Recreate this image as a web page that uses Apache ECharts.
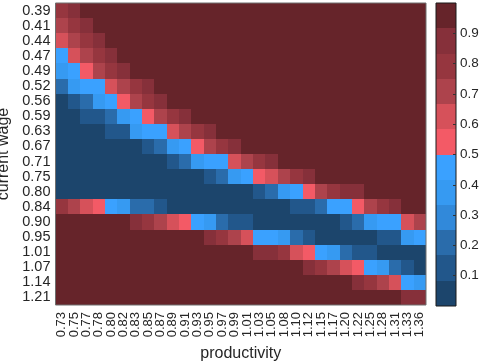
<!DOCTYPE html>
<html>
<head>
<meta charset="utf-8">
<script src="https://cdn.jsdelivr.net/npm/echarts@6/dist/echarts.min.js"></script>
<style>
  html, body { margin: 0; padding: 0; background: #ffffff; }
  #chart { width: 480px; height: 362px; }
</style>
</head>
<body>
<div id="chart"></div>
<script>
// Productivity levels (columns) and current wage levels (rows, lowest at top)
const productivity = ['0.73','0.75','0.77','0.78','0.80','0.82','0.83','0.85','0.87','0.89',
                      '0.91','0.93','0.95','0.97','0.99','1.01','1.03','1.05','1.08','1.10',
                      '1.12','1.15','1.17','1.20','1.22','1.25','1.28','1.31','1.33','1.36'];
const currentWage = ['0.39','0.41','0.44','0.47','0.49','0.52','0.56','0.59','0.63','0.67',
                     '0.71','0.75','0.80','0.84','0.90','0.95','1.01','1.07','1.14','1.21'];

// Cell values, one array per wage row, one entry per productivity column
const w039 = [0.79,0.88,0.96,0.96,0.96,0.96,0.96,0.96,0.96,0.96, 0.96,0.96,0.96,0.96,0.96,0.96,0.96,0.96,0.96,0.96, 0.96,0.96,0.96,0.96,0.96,0.96,0.96,0.96,0.96,0.96];
const w041 = [0.71,0.79,0.88,0.96,0.96,0.96,0.96,0.96,0.96,0.96, 0.96,0.96,0.96,0.96,0.96,0.96,0.96,0.96,0.96,0.96, 0.96,0.96,0.96,0.96,0.96,0.96,0.96,0.96,0.96,0.96];
const w044 = [0.63,0.71,0.79,0.88,0.96,0.96,0.96,0.96,0.96,0.96, 0.96,0.96,0.96,0.96,0.96,0.96,0.96,0.96,0.96,0.96, 0.96,0.96,0.96,0.96,0.96,0.96,0.96,0.96,0.96,0.96];
const w047 = [0.46,0.63,0.71,0.79,0.88,0.96,0.96,0.96,0.96,0.96, 0.96,0.96,0.96,0.96,0.96,0.96,0.96,0.96,0.96,0.96, 0.96,0.96,0.96,0.96,0.96,0.96,0.96,0.96,0.96,0.96];
const w049 = [0.38,0.46,0.54,0.71,0.79,0.88,0.96,0.96,0.96,0.96, 0.96,0.96,0.96,0.96,0.96,0.96,0.96,0.96,0.96,0.96, 0.96,0.96,0.96,0.96,0.96,0.96,0.96,0.96,0.96,0.96];
const w052 = [0.21,0.38,0.46,0.46,0.63,0.71,0.79,0.88,0.96,0.96, 0.96,0.96,0.96,0.96,0.96,0.96,0.96,0.96,0.96,0.96, 0.96,0.96,0.96,0.96,0.96,0.96,0.96,0.96,0.96,0.96];
const w056 = [0.04,0.13,0.21,0.38,0.46,0.54,0.71,0.79,0.88,0.96, 0.96,0.96,0.96,0.96,0.96,0.96,0.96,0.96,0.96,0.96, 0.96,0.96,0.96,0.96,0.96,0.96,0.96,0.96,0.96,0.96];
const w059 = [0.04,0.04,0.13,0.13,0.21,0.38,0.46,0.54,0.71,0.79, 0.88,0.96,0.96,0.96,0.96,0.96,0.96,0.96,0.96,0.96, 0.96,0.96,0.96,0.96,0.96,0.96,0.96,0.96,0.96,0.96];
const w063 = [0.04,0.04,0.04,0.04,0.13,0.13,0.38,0.46,0.46,0.63, 0.71,0.79,0.88,0.96,0.96,0.96,0.96,0.96,0.96,0.96, 0.96,0.96,0.96,0.96,0.96,0.96,0.96,0.96,0.96,0.96];
const w067 = [0.04,0.04,0.04,0.04,0.04,0.04,0.04,0.13,0.21,0.38, 0.46,0.54,0.71,0.79,0.88,0.96,0.96,0.96,0.96,0.96, 0.96,0.96,0.96,0.96,0.96,0.96,0.96,0.96,0.96,0.96];
const w071 = [0.04,0.04,0.04,0.04,0.04,0.04,0.04,0.04,0.04,0.13, 0.21,0.38,0.46,0.46,0.63,0.71,0.79,0.88,0.96,0.96, 0.96,0.96,0.96,0.96,0.96,0.96,0.96,0.96,0.96,0.96];
const w075 = [0.04,0.04,0.04,0.04,0.04,0.04,0.04,0.04,0.04,0.04, 0.04,0.04,0.13,0.21,0.38,0.46,0.54,0.63,0.71,0.79, 0.88,0.96,0.96,0.96,0.96,0.96,0.96,0.96,0.96,0.96];
const w080 = [0.04,0.04,0.04,0.04,0.04,0.04,0.04,0.04,0.04,0.04, 0.04,0.04,0.04,0.04,0.04,0.04,0.13,0.21,0.38,0.46, 0.54,0.71,0.79,0.88,0.88,0.96,0.96,0.96,0.96,0.96];
const w084 = [0.79,0.71,0.63,0.54,0.46,0.38,0.21,0.21,0.13,0.04, 0.04,0.04,0.04,0.04,0.04,0.04,0.04,0.04,0.04,0.13, 0.13,0.21,0.46,0.46,0.54,0.71,0.79,0.88,0.96,0.96];
const w090 = [0.96,0.96,0.96,0.96,0.96,0.96,0.88,0.79,0.71,0.63, 0.54,0.46,0.38,0.21,0.13,0.13,0.04,0.04,0.04,0.04, 0.04,0.04,0.04,0.13,0.21,0.38,0.46,0.46,0.63,0.71];
const w095 = [0.96,0.96,0.96,0.96,0.96,0.96,0.96,0.96,0.96,0.96, 0.96,0.96,0.88,0.79,0.71,0.63,0.46,0.46,0.38,0.21, 0.13,0.04,0.04,0.04,0.04,0.04,0.13,0.13,0.38,0.46];
const w101 = [0.96,0.96,0.96,0.96,0.96,0.96,0.96,0.96,0.96,0.96, 0.96,0.96,0.96,0.96,0.96,0.96,0.88,0.88,0.79,0.63, 0.54,0.46,0.38,0.21,0.13,0.13,0.04,0.04,0.04,0.04];
const w107 = [0.96,0.96,0.96,0.96,0.96,0.96,0.96,0.96,0.96,0.96, 0.96,0.96,0.96,0.96,0.96,0.96,0.96,0.96,0.96,0.96, 0.88,0.79,0.71,0.63,0.54,0.46,0.38,0.21,0.13,0.04];
const w114 = [0.96,0.96,0.96,0.96,0.96,0.96,0.96,0.96,0.96,0.96, 0.96,0.96,0.96,0.96,0.96,0.96,0.96,0.96,0.96,0.96, 0.96,0.96,0.96,0.96,0.88,0.79,0.71,0.63,0.46,0.38];
const w121 = [0.96,0.96,0.96,0.96,0.96,0.96,0.96,0.96,0.96,0.96, 0.96,0.96,0.96,0.96,0.96,0.96,0.96,0.96,0.96,0.96, 0.96,0.96,0.96,0.96,0.96,0.96,0.96,0.96,0.88,0.88];

const valueRows = [w039, w041, w044, w047, w049, w052, w056, w059, w063, w067,
                   w071, w075, w080, w084, w090, w095, w101, w107, w114, w121];

// Stepped colour scale: 12 bands between 0 and 1
const levelEdges = [0, 0.0833, 0.1667, 0.25, 0.3333, 0.4167, 0.5, 0.5833, 0.6667, 0.75, 0.8333, 0.9167, 1];
const levelColors = ['#1c456c', '#22578b', '#2a6cab', '#3189da', '#369af2', '#3aa1ff',
                     '#f35a66', '#d6515a', '#ad434c', '#96363f', '#86303a', '#66242a'];

const textColor = '#262626';
const fontFamily = '"Liberation Sans", Arial, Helvetica, sans-serif';

// Look up the band colour of a value
function bandColor(v) {
  for (let i = 0; i < levelColors.length; i++) {
    if (v < levelEdges[i + 1]) return levelColors[i];
  }
  return levelColors[levelColors.length - 1];
}

// [column, row, value] triples for the grid of cells
const cellData = [];
valueRows.forEach(function (row, r) {
  row.forEach(function (v, c) { cellData.push([c, r, v]); });
});

// [category, lower edge, upper edge, band] for each colour bar band
const scaleData = levelColors.map(function (col, i) {
  return [0, levelEdges[i], levelEdges[i + 1], i];
});

// Snap an edge to a whole pixel; float noise is trimmed first so that
// two neighbouring cells always agree on their shared edge
function snap(v) {
  return Math.round(Math.round(v * 1000) / 1000);
}

function renderCell(params, api) {
  const p = api.coord([api.value(0), api.value(1)]);
  const s = api.size([1, 1]);
  const w = Math.abs(s[0]), h = Math.abs(s[1]);
  const x0 = snap(p[0] - w / 2), x1 = snap(p[0] + w / 2);
  const y0 = snap(p[1] - h / 2), y1 = snap(p[1] + h / 2);
  return {
    type: 'rect',
    shape: { x: x0, y: y0, width: x1 - x0, height: y1 - y0 },
    style: { fill: bandColor(api.value(2)) }
  };
}

function renderBand(params, api) {
  const lo = api.coord([api.value(0), api.value(1)]);
  const hi = api.coord([api.value(0), api.value(2)]);
  const w = Math.abs(api.size([1, 0])[0]);
  const x0 = snap(lo[0] - w / 2), x1 = snap(lo[0] + w / 2);
  const yTop = snap(Math.min(lo[1], hi[1])), yBot = snap(Math.max(lo[1], hi[1]));
  return {
    type: 'rect',
    shape: { x: x0, y: yTop, width: x1 - x0, height: yBot - yTop },
    style: { fill: levelColors[api.value(3)] }
  };
}

const chart = echarts.init(document.getElementById('chart'), null, { renderer: 'canvas' });

chart.setOption({
  animation: false,
  backgroundColor: '#ffffff',
  textStyle: { fontFamily: fontFamily },
  grid: [
    { left: 55.5, top: 3, width: 370.5, height: 302, show: true, z: 10,
      outerBoundsMode: 'none', containLabel: false,
      borderColor: '#6e6e6e', borderWidth: 1, backgroundColor: 'transparent' },
    { left: 436, top: 3, width: 20, height: 303, show: true, z: 10,
      outerBoundsMode: 'none', containLabel: false,
      borderColor: '#1a1a1a', borderWidth: 1, backgroundColor: 'transparent' }
  ],
  xAxis: [
    {
      type: 'category', gridIndex: 0, data: productivity,
      name: 'productivity', nameLocation: 'middle', nameGap: 36,
      nameTextStyle: { fontSize: 16, color: textColor, fontFamily: fontFamily },
      axisLine: { show: false }, axisTick: { show: false },
      splitLine: { show: false }, splitArea: { show: false },
      axisLabel: { rotate: 90, interval: 0, fontSize: 13, color: textColor, margin: 7, fontFamily: fontFamily }
    },
    {
      type: 'category', gridIndex: 1, data: ['scale'],
      axisLine: { show: false }, axisTick: { show: false }, axisLabel: { show: false },
      splitLine: { show: false }, splitArea: { show: false }
    }
  ],
  yAxis: [
    {
      type: 'category', gridIndex: 0, data: currentWage, inverse: true,
      name: 'current wage', nameLocation: 'middle', nameGap: 39, nameRotate: 90,
      nameTextStyle: { fontSize: 16, color: textColor, fontFamily: fontFamily },
      axisLine: { show: false }, axisTick: { show: false },
      splitLine: { show: false }, splitArea: { show: false },
      axisLabel: { interval: 0, fontSize: 14.5, color: textColor, margin: 5, fontFamily: fontFamily }
    },
    {
      type: 'value', gridIndex: 1, min: 0, max: 1, interval: 0.1, position: 'right', z: 12,
      splitLine: { show: false },
      axisLine: { show: false },
      axisTick: { show: true, inside: true, length: 3, lineStyle: { color: '#333333', width: 1 } },
      axisLabel: {
        showMinLabel: false, showMaxLabel: false, fontSize: 13.5, color: textColor, margin: 4,
        fontFamily: fontFamily,
        formatter: function (v) { return v.toFixed(1); }
      }
    }
  ],
  series: [
    {
      type: 'custom',
      xAxisIndex: 0,
      yAxisIndex: 0,
      data: cellData,
      encode: { x: 0, y: 1 },
      renderItem: renderCell,
      silent: true
    },
    {
      type: 'custom',
      xAxisIndex: 1,
      yAxisIndex: 1,
      data: scaleData,
      encode: { x: 0, y: [1, 2] },
      renderItem: renderBand,
      silent: true
    }
  ]
});
</script>
</body>
</html>
